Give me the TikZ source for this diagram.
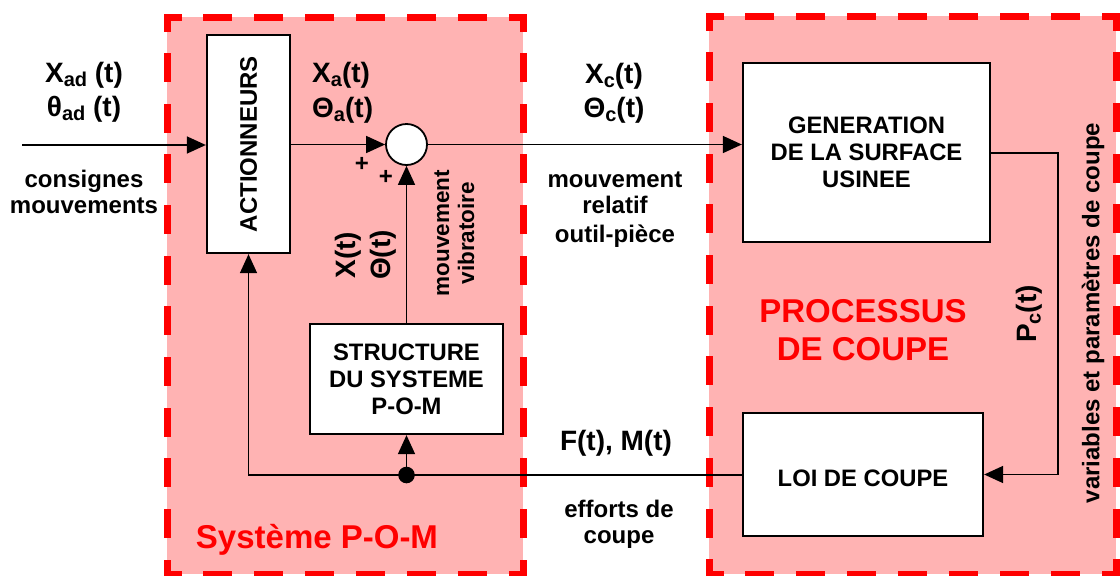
\documentclass[tikz,border=0pt]{standalone}
\usepackage{fontspec}
\setmainfont{Liberation Sans}
\usetikzlibrary{arrows.meta}
\definecolor{pinkfill}{HTML}{FFB3B3}
\definecolor{redline}{HTML}{FF0000}
\newcommand\sbs[1]{\raisebox{-4.5pt}{\fontsize{20}{20}\selectfont #1}}
\begin{document}
\begin{tikzpicture}[x=1pt,y=-1pt,
  redside/.style={draw=redline, line width=7pt, line cap=rect, dash pattern=on 22pt off #1, dash phase=11pt},
  blk/.style={draw=black, fill=white, line width=2.3pt, inner sep=0pt, align=center, font=\fontsize{23.8}{27}\selectfont\bfseries},
  lbl/.style={inner sep=0pt, font=\fontsize{24}{27}\selectfont\bfseries, anchor=base},
  vlbl/.style={inner sep=0pt, font=\fontsize{28}{30}\selectfont\bfseries, anchor=base},
  rlbl/.style={inner sep=0pt, font=\fontsize{24}{27}\selectfont\bfseries, rotate=90},
  big/.style={inner sep=0pt, font=\fontsize{33}{38}\selectfont\bfseries, text=redline, anchor=base},
  conn/.style={draw=black, line width=1.6pt},
  arr/.style={conn, -{Triangle[length=19pt,width=17pt]}},
]
\useasboundingbox (0,0) rectangle (1120,576);
% regions
\fill[pinkfill] (167,17) rectangle (523,574);
\fill[pinkfill] (709,16) rectangle (1116,574);
\draw[redside={28.86pt}] (167,17) -- (523,17);
\draw[redside={28.86pt}] (167,574) -- (523,574);
\draw[redside={28.64pt}] (167,17) -- (167,574);
\draw[redside={28.64pt}] (523,17) -- (523,574);
\draw[redside={28.875pt}] (709,16) -- (1116,16);
\draw[redside={28.875pt}] (709,574) -- (1116,574);
\draw[redside={28.7pt}] (709,16) -- (709,574);
\draw[redside={28.7pt}] (1116,16) -- (1116,574);

% blocks
\node[blk, minimum width=83pt, minimum height=218pt] (act) at (248.5,144) {};
\node[rlbl] (acttxt) at (act.center) {ACTIONNEURS};
\node[draw=black, fill=white, circle, line width=1.8pt, minimum size=41pt, inner sep=0pt] (sum) at (406.5,144.5) {};
\node[blk, minimum width=247pt, minimum height=179pt] (gen) at (866.5,152.5) {GENERATION\\DE LA SURFACE\\USINEE};
\node[blk, minimum width=193pt, minimum height=110pt] (str) at (406.5,379) {STRUCTURE\\DU SYSTEME\\P-O-M};
\node[blk, minimum width=240pt, minimum height=123pt] (loi) at (863,474.5) {};
\node[lbl, anchor=center, font=\fontsize{23.8}{27}\selectfont\bfseries] (loitxt) at (863,478) {LOI DE COUPE};

% connectors
\coordinate (in) at (22,145);
\coordinate (dot) at (406.5,475);
\coordinate (pc) at (1058,153);
\draw[arr] (in) -- (in -| act.west);
\draw[arr] (act.east |- sum) -- (sum.west);
\draw[arr] (sum.east) -- (sum.east -| gen.west);
\draw[arr] (str.north) -- (sum.south);
\draw[conn] (loi.west |- dot) -- (dot);
\draw[arr] (dot) -| (act.south);
\draw[arr] (dot) -- (str.south);
\draw[arr] (gen.east |- pc) -- (pc) |- (loi.east);
\node[circle, fill=black, minimum size=16.6pt, inner sep=0pt] (dotn) at (dot) {};

% labels
\node[vlbl] (xad) at (84,82) {X\sbs{ad} (t)};
\node[vlbl] (thad) at (84,116) {θ\sbs{ad} (t)};
\node[lbl] (cons1) at (84,187) {consignes};
\node[lbl] (cons2) at (84,213) {mouvements};
\node[vlbl, anchor=base west] (xa) at (312,82) {X\sbs{a}(t)};
\node[vlbl, anchor=base west] (tha) at (312,117) {Θ\sbs{a}(t)};
\node[inner sep=0pt, font=\fontsize{24}{24}\selectfont\bfseries] (p1) at (362,164) {+};
\node[inner sep=0pt, font=\fontsize{24}{24}\selectfont\bfseries] (p2) at (386,177) {+};
\node[rlbl, font=\fontsize{28}{30}\selectfont\bfseries] (xt) at (348,255) {X(t)};
\node[rlbl, font=\fontsize{28}{30}\selectfont\bfseries] (tht) at (383,255) {Θ(t)};
\node[rlbl, font=\fontsize{22.5}{24}\selectfont\bfseries] (mv1) at (442,233) {mouvement};
\node[rlbl, font=\fontsize{22.5}{24}\selectfont\bfseries] (mv2) at (466,233) {vibratoire};
\node[vlbl] (xc) at (614,83) {X\sbs{c}(t)};
\node[vlbl] (thc) at (614,117) {Θ\sbs{c}(t)};
\node[lbl] (mr1) at (615,187) {mouvement};
\node[lbl] (mr2) at (615,213) {relatif};
\node[lbl] (mr3) at (615,242) {outil-pièce};
\node[vlbl] (fm) at (616,450) {F(t), M(t)};
\node[lbl] (ef1) at (619,517) {efforts de};
\node[lbl] (ef2) at (619,543) {coupe};
\node[big] (proc1) at (863,322) {PROCESSUS};
\node[big] (proc2) at (863,360) {DE COUPE};
\node[big] (spom) at (317,548) {Système P-O-M};
\node[rlbl, font=\fontsize{28}{30}\selectfont\bfseries] (pct) at (1029,314) {P\sbs{c}(t)};
\node[rlbl] (vars) at (1093,313) {variables et paramètres de coupe};
\end{tikzpicture}
\end{document}
